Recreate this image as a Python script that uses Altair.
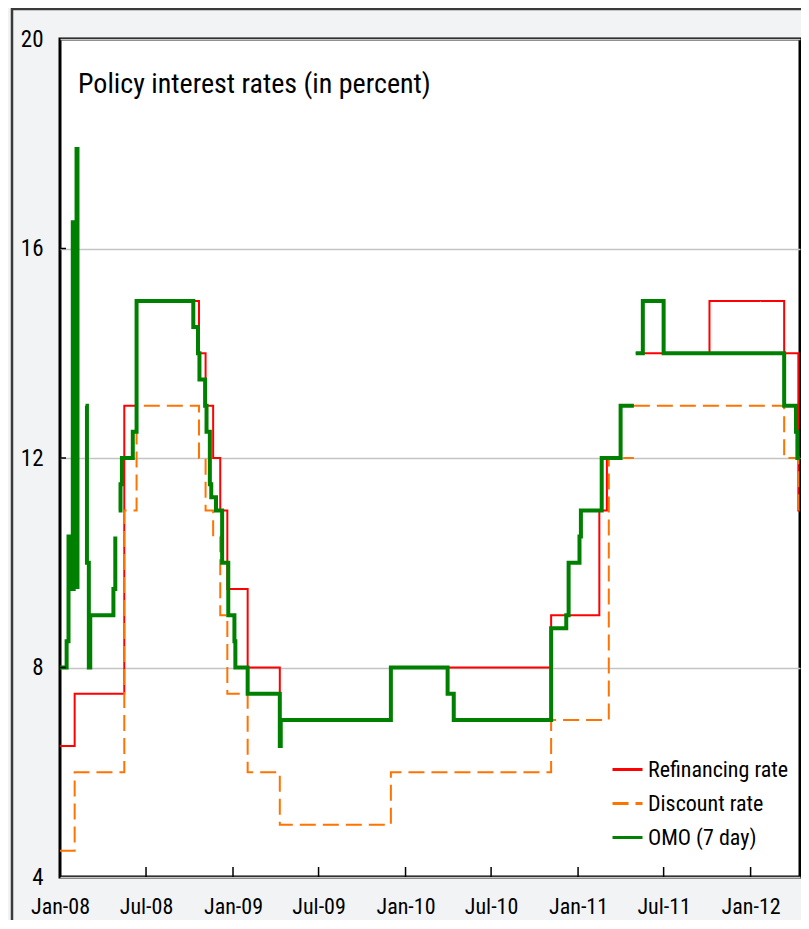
import altair as alt
import pandas as pd

SERIES = ["Refinancing rate", "Discount rate", "OMO (7 day)"]
COLORS = ["#ff0000", "#ff7300", "#008000"]
DASHES = [[1, 0], [16, 7], [1, 0]]
WIDTHS = [2, 2, 4]
FONT = "Liberation Sans Narrow, Arial Narrow, Roboto Condensed, DejaVu Sans Condensed, sans-serif"

# Refinancing rate (step changes); None marks a gap in the line
refi_dates = ["2008-01-01", "2008-02-01", "2008-05-16", "2008-06-11", "2008-10-21",
              "2008-11-04", "2008-11-20", "2008-12-05", "2008-12-20", "2009-02-01",
              "2009-04-10", "2009-12-01", "2010-11-05", "2011-02-15", "2011-03-03",
              "2011-04-01", "2011-04-29", None, "2011-05-03", "2011-10-06",
              "2012-03-12", "2012-04-11", "2012-04-15"]
refi_values = [6.5, 7.5, 13, 15, 14,
               13, 12, 11, 9.5, 8,
               7, 8, 9, 11, 12,
               13, 13, None, 14, 15,
               14, 11, 11]

# Discount rate
disc_dates = ["2008-01-01", "2008-02-01", "2008-05-16", "2008-06-11", "2008-10-21",
              "2008-11-04", "2008-11-20", "2008-12-05", "2008-12-20", "2009-02-01",
              "2009-04-10", "2009-12-01", "2010-11-05", "2011-03-07", "2011-04-29",
              None, "2011-04-29", "2012-03-12", "2012-04-11", "2012-04-15"]
disc_values = [4.5, 6, 11, 13, 12,
               11, 10.5, 9, 7.5, 6,
               5, 6, 7, 12, 12,
               None, 13, 12, 11, 11]

# OMO (7 day)
omo_dates = ["2008-01-01", "2008-01-15", "2008-01-19", "2008-01-22", "2008-01-24",
             "2008-01-26", "2008-01-28", "2008-01-29", "2008-01-30", "2008-01-31",
             "2008-02-01", "2008-02-02", "2008-02-03", "2008-02-05", "2008-02-07",
             None,
             "2008-02-24", "2008-02-27", "2008-03-02", "2008-03-05", "2008-04-23",
             "2008-04-27",
             None,
             "2008-05-04", "2008-05-08", "2008-05-11", "2008-06-03", "2008-06-11",
             "2008-10-09", "2008-10-19", "2008-10-22", "2008-11-03", "2008-11-06",
             "2008-11-13", "2008-11-16", "2008-11-26", "2008-12-09", "2008-12-22",
             "2009-01-04", "2009-01-06", "2009-02-01", "2009-04-10", "2009-04-12",
             "2009-12-01", "2010-03-31", "2010-04-13", "2010-11-05", "2010-12-07",
             "2010-12-12", "2011-01-04", "2011-01-07", "2011-02-20", "2011-04-01",
             "2011-04-29",
             None,
             "2011-05-03", "2011-05-18", "2011-07-01", "2012-03-12", "2012-04-06",
             "2012-04-09", "2012-04-15"]
omo_values = [8, 8.5, 10.5, 9.7, 10.5,
              9.5, 16.5, 9.5, 16.5, 9.7,
              16.5, 10, 16.5, 17.9, 9.5,
              None,
              13, 10, 8, 9, 9.5,
              10.5,
              None,
              11, 11.5, 12, 12.5, 15,
              14.5, 14, 13.5, 13, 12.5,
              11.5, 11.25, 11, 10, 9,
              8.5, 8, 7.5, 6.5, 7,
              8, 7.5, 7, 8.75, 9,
              10, 10.5, 11, 12, 13,
              13,
              None,
              14, 15, 14, 13, 12.5,
              12, 12]

x_tick_dates = ["2008-01-01", "2008-07-01", "2009-01-01", "2009-07-01", "2010-01-01",
                "2010-07-01", "2011-01-01", "2011-07-01", "2012-01-01"]
y_tick_values = [4, 8, 12, 16, 20]
title_text = "Policy interest rates (in percent)"


def build(name, dates, values):
    rows, seg = [], 0
    for d, v in zip(dates, values):
        if v is None:
            seg += 1
            continue
        rows.append({"series": name, "seg": f"{name}-{seg}", "date": d, "value": v})
    return rows


df = pd.DataFrame(build(SERIES[0], refi_dates, refi_values)
                  + build(SERIES[1], disc_dates, disc_values)
                  + build(SERIES[2], omo_dates, omo_values))

W, H = 740, 838

xscale = alt.Scale(type="utc",
                   domain=[alt.DateTime(year=2008, month=1, date=1, utc=True),
                           alt.DateTime(year=2012, month=4, date=14, hours=12, utc=True)])
yscale = alt.Scale(domain=[4, 20], nice=False, zero=False)

xaxis = alt.Axis(values=[alt.DateTime(year=int(d[:4]), month=int(d[5:7]), date=1, utc=True)
                         for d in x_tick_dates],
                 format="%b-%y", labelFontSize=22, labelFont=FONT, labelColor="#000",
                 labelPadding=19, ticks=False, tickSize=0, domain=False, grid=False,
                 labelFlush=False, labelOverlap=False, title=None)
yaxis = alt.Axis(values=y_tick_values, labelFontSize=23, labelFont=FONT, labelColor="#000",
                 labelPadding=17, ticks=False, tickSize=0, domain=False, grid=True,
                 gridColor="#c4c4c4", gridWidth=1.5, title=None)

legend = alt.Legend(orient="none", legendX=551, legendY=714, title=None,
                    symbolType="stroke", symbolSize=900, symbolStrokeWidth=3,
                    labelFontSize=22, labelFont=FONT, labelColor="#000",
                    rowPadding=6, labelOffset=4, padding=0)
color = alt.Color("series:N", scale=alt.Scale(domain=SERIES, range=COLORS), legend=legend)
dash = alt.StrokeDash("series:N", scale=alt.Scale(domain=SERIES, range=DASHES), legend=legend)

X = alt.X("date:T", scale=xscale, axis=xaxis)
Y = alt.Y("value:Q", scale=yscale, axis=yaxis)

frame = alt.Chart(pd.DataFrame({"k": [0]})).mark_rect(
    filled=False, stroke="#3a3a3a", strokeWidth=2.5, clip=False
).encode(x=alt.value(-48), x2=alt.value(W + 40), y=alt.value(-30), y2=alt.value(H + 120))

layers = [frame]
for i, s in enumerate(SERIES):
    layers.append(
        alt.Chart(df).transform_filter(alt.datum.series == s).mark_line(
            interpolate="step-after", strokeWidth=WIDTHS[i], clip=True
        ).encode(x=X, y=Y, color=color, strokeDash=dash, detail="seg:N")
    )

xt = alt.Chart(pd.DataFrame({"date": x_tick_dates})).mark_rule(color="#000", strokeWidth=1.5).encode(
    x=X, y=alt.value(H), y2=alt.value(H - 10))
yt = alt.Chart(pd.DataFrame({"value": y_tick_values[1:-1]})).mark_rule(color="#000", strokeWidth=1.5).encode(
    y=Y, x=alt.value(0), x2=alt.value(6))
title = alt.Chart(pd.DataFrame({"t": [title_text]})).mark_text(
    align="left", baseline="alphabetic", fontSize=28, font=FONT, color="#000"
).encode(x=alt.value(18), y=alt.value(54), text="t:N")

chart = alt.layer(*layers, xt, yt, title).properties(
    width=W, height=H,
    autosize=alt.AutoSizeParams(type="none"),
    padding={"left": 52, "top": 31, "right": 1, "bottom": 43},
    background="#f2f3f5",
).configure_view(fill="#ffffff", stroke="#000", strokeWidth=3)

chart.save("out.html", embed_options={"renderer": "svg", "actions": False})
